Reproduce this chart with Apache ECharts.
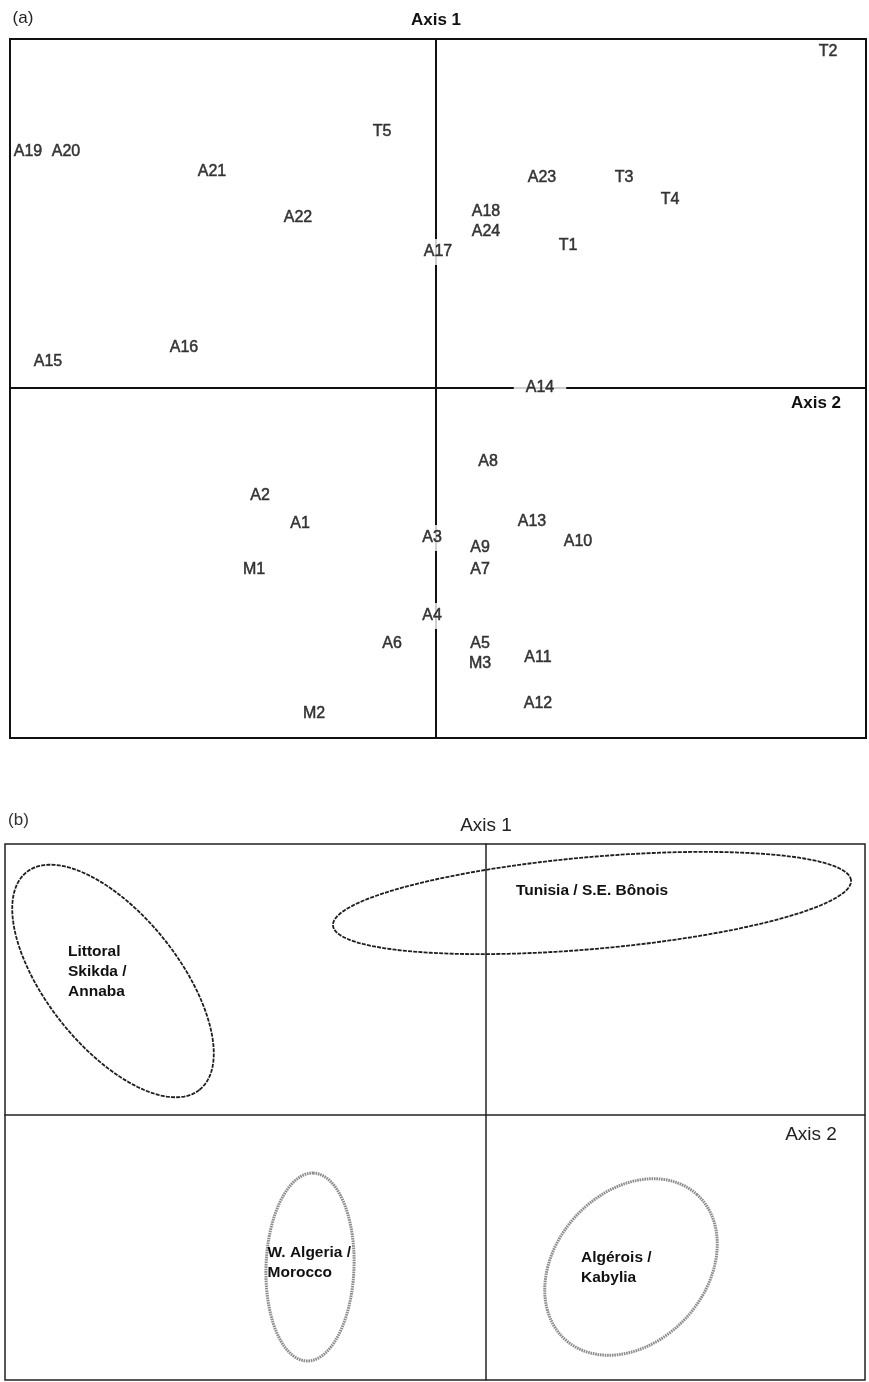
<!DOCTYPE html>
<html>
<head>
<meta charset="utf-8">
<script src="https://cdn.jsdelivr.net/npm/echarts@6/dist/echarts.min.js"></script>
<style>
  html, body { margin: 0; padding: 0; background: #ffffff; }
  #chart { width: 869px; height: 1382px; }
</style>
</head>
<body>
<div id="chart"></div>
<script>
// ---- Panel (a): population scores on the first two factorial axes ----
// Horizontal axis = Axis 2, vertical axis = Axis 1.
const sampleNames = ['T2', 'T5', 'A19', 'A20', 'A21', 'A22', 'A17', 'A16', 'A15',
  'A23', 'T3', 'T4', 'A18', 'A24', 'T1', 'A14',
  'A2', 'A1', 'A3', 'M1', 'A4', 'A6', 'M2',
  'A8', 'A13', 'A10', 'A9', 'A7', 'A5', 'M3', 'A11', 'A12'];
const axis2Scores = [1.96, -0.27, -2.04, -1.85, -1.12, -0.69, 0.01, -1.26, -1.94,
  0.53, 0.94, 1.17, 0.25, 0.25, 0.66, 0.52,
  -0.88, -0.68, -0.02, -0.91, -0.02, -0.22, -0.61,
  0.26, 0.48, 0.71, 0.22, 0.22, 0.22, 0.22, 0.51, 0.51];
const axis1Scores = [1.68, 1.28, 1.18, 1.18, 1.08, 0.85, 0.68, 0.20, 0.13,
  1.05, 1.05, 0.94, 0.88, 0.78, 0.71, 0.00,
  -0.54, -0.68, -0.75, -0.91, -1.14, -1.28, -1.63,
  -0.37, -0.67, -0.77, -0.80, -0.91, -1.28, -1.38, -1.35, -1.58];

// ---- Panel (b): regional groupings drawn as ellipses ----
const regionNames = ['Littoral\nSkikda /\nAnnaba', 'Tunisia / S.E. Bônois',
  'W. Algeria /\nMorocco', 'Algérois /\nKabylia'];
const regionCenterX = [-1.865, 0.53, -0.88, 0.725];
const regionCenterY = [0.67, 1.06, -0.76, -0.76];
const regionSemiMajor = [0.695, 1.30, 0.47, 0.49];
const regionSemiMinor = [0.33, 0.23, 0.22, 0.375];
const regionAngleDeg = [-51.5, 5, 88, 47.5];

// ---- styling ----
const FONT = '"Liberation Sans", Arial, Helvetica, sans-serif';
const onAxisLabels = ['A14', 'A17', 'A3', 'A4'];   // labels that interrupt the axis lines

const dashedDark = { color: '#1e1e1e', width: 1.8, dash: [4, 1.2] };
const dottedGrey = { color: '#8c8c8c', width: 3, dash: [1.6, 0.8] };
const outlineStyles = [dashedDark, dashedDark, dottedGrey, dottedGrey];
const labelPlacement = [
  { dx: -45, dy: -9, align: 'left' },
  { dx: 0, dy: -12.5, align: 'center' },
  { dx: -42.5, dy: -4.5, align: 'left' },
  { dx: -50, dy: 1, align: 'left' }
];

const sampleData = sampleNames.map(function (n, i) {
  const item = { name: n, value: [axis2Scores[i], axis1Scores[i]] };
  if (onAxisLabels.indexOf(n) >= 0) {
    item.label = { backgroundColor: '#ffffff', padding: [5, 12] };
  }
  return item;
});

const regionData = regionNames.map(function (n, i) {
  return { name: n, value: [regionCenterX[i], regionCenterY[i], regionSemiMajor[i], regionSemiMinor[i], regionAngleDeg[i]] };
});

function renderRegion(params, api) {
  const i = params.dataIndex;
  const cx = api.value(0), cy = api.value(1);
  const a = api.value(2), b = api.value(3);
  const th = api.value(4) * Math.PI / 180;
  const pts = [];
  const N = 200;
  for (let k = 0; k < N; k++) {
    const t = k / N * 2 * Math.PI;
    const ex = a * Math.cos(t), ey = b * Math.sin(t);
    pts.push(api.coord([cx + ex * Math.cos(th) - ey * Math.sin(th),
                        cy + ex * Math.sin(th) + ey * Math.cos(th)]));
  }
  const c = api.coord([cx, cy]);
  const st = outlineStyles[i];
  const lb = labelPlacement[i];
  return {
    type: 'group',
    children: [
      {
        type: 'polygon',
        shape: { points: pts },
        style: { fill: 'none', stroke: st.color, lineWidth: st.width, lineDash: st.dash }
      },
      {
        type: 'text',
        x: c[0] + lb.dx,
        y: c[1] + lb.dy,
        style: {
          text: regionNames[i],
          fill: '#111',
          font: 'bold 15.5px ' + FONT,
          align: lb.align,
          verticalAlign: 'middle',
          lineHeight: 20
        }
      }
    ]
  };
}

function valueAxis(gridIndex, min, max, lineColor, lineWidth, extra) {
  return Object.assign({
    type: 'value',
    gridIndex: gridIndex,
    min: min,
    max: max,
    axisLine: { show: true, onZero: true, lineStyle: { color: lineColor, width: lineWidth } },
    axisTick: { show: false },
    axisLabel: { show: false },
    splitLine: { show: false }
  }, extra || {});
}

const chart = echarts.init(document.getElementById('chart'), null, { renderer: 'canvas' });

chart.setOption({
  backgroundColor: '#ffffff',
  animation: false,
  grid: [
    { left: 10, top: 39, right: 3, bottom: 644, show: true, borderColor: '#111', borderWidth: 2,
      backgroundColor: 'transparent', containLabel: false, outerBoundsMode: 'none' },
    { left: 5, top: 844, right: 4, bottom: 2, show: true, borderColor: '#222', borderWidth: 1.5,
      backgroundColor: 'transparent', containLabel: false, outerBoundsMode: 'none' }
  ],
  xAxis: [
    valueAxis(0, -2.13, 2.15, '#111', 2),
    valueAxis(1, -2.405, 1.895, '#222', 1.5)
  ],
  yAxis: [
    valueAxis(0, -1.75, 1.745, '#111', 2, {
      name: 'Axis 1', nameLocation: 'end', nameGap: 10,
      nameTextStyle: { fontFamily: FONT, fontSize: 17, fontWeight: 'bold', color: '#111' }
    }),
    valueAxis(1, -1.325, 1.355, '#222', 1.5, {
      name: 'Axis 1', nameLocation: 'end', nameGap: 9,
      nameTextStyle: { fontFamily: FONT, fontSize: 19, color: '#222' }
    })
  ],
  graphic: [
    { type: 'text', x: 23, y: 18, style: { text: '(a)', font: '17px ' + FONT, fill: '#222', align: 'center', verticalAlign: 'middle' } },
    { type: 'text', x: 816, y: 403, style: { text: 'Axis 2', font: 'bold 17px ' + FONT, fill: '#111', align: 'center', verticalAlign: 'middle' } },
    { type: 'text', x: 18.5, y: 820, style: { text: '(b)', font: '17px ' + FONT, fill: '#333', align: 'center', verticalAlign: 'middle' } },
    { type: 'text', x: 811, y: 1135, style: { text: 'Axis 2', font: '19px ' + FONT, fill: '#222', align: 'center', verticalAlign: 'middle' } }
  ],
  series: [
    {
      type: 'scatter',
      xAxisIndex: 0,
      yAxisIndex: 0,
      data: sampleData,
      symbolSize: 1,
      itemStyle: { color: 'rgba(0,0,0,0)' },
      silent: true,
      z: 5,
      label: {
        show: true,
        position: 'inside',
        formatter: '{b}',
        fontFamily: FONT,
        fontSize: 16,
        color: '#0d0d0d',
        textBorderColor: '#0d0d0d',
        textBorderWidth: 0.5,
        align: 'center',
        verticalAlign: 'middle'
      },
      emphasis: { disabled: true }
    },
    {
      type: 'custom',
      xAxisIndex: 1,
      yAxisIndex: 1,
      data: regionData,
      encode: { x: 0, y: 1 },
      renderItem: renderRegion,
      clip: false,
      silent: true,
      z: 5
    }
  ]
});
</script>
</body>
</html>
